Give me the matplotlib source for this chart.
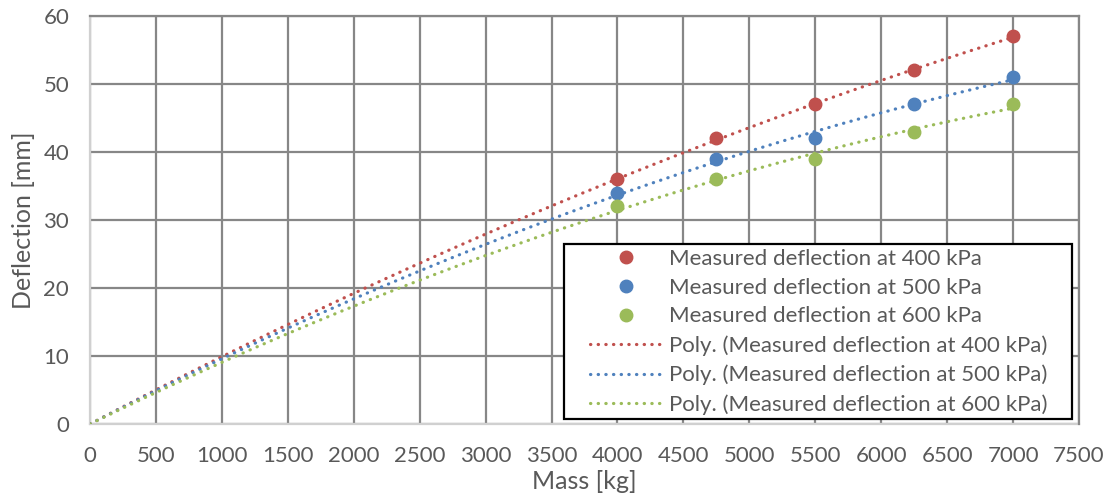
import numpy as np
import matplotlib
matplotlib.use("Agg")
import matplotlib.pyplot as plt
from matplotlib.patches import Rectangle

plt.rcParams['font.family'] = ['Lato', 'DejaVu Sans']

# data
mass = [4000, 4750, 5500, 6250, 7000]
defl_400 = [36, 42, 47, 52, 57]
defl_500 = [34, 39, 42, 47, 51]
defl_600 = [32, 36, 39, 43, 47]

series = [
    ("400 kPa", defl_400, "#C0504D"),
    ("500 kPa", defl_500, "#4F81BD"),
    ("600 kPa", defl_600, "#9BBB59"),
]

txt = "#595959"
grid = "#878787"

fig = plt.figure(figsize=(11.14, 4.95), dpi=100)
ax = fig.add_axes([0.0808, 0.1434, 0.8878, 0.8243])

# polynomial trendlines (order 2, intercept forced to 0)
xs = np.linspace(0, 7000, 200)
trend_handles = []
for name, y, c in series:
    x = np.array(mass, dtype=float)
    A = np.column_stack([x, x ** 2])
    coef, *_ = np.linalg.lstsq(A, np.array(y, dtype=float), rcond=None)
    yy = coef[0] * xs + coef[1] * xs ** 2
    ln, = ax.plot(xs, yy, color=c, lw=2.3, linestyle=(0, (0.1, 2.3)),
                  dash_capstyle='round', zorder=3,
                  label="Poly. (Measured deflection at %s)" % name)
    trend_handles.append(ln)

pt_handles = []
for name, y, c in series:
    sc, = ax.plot(mass, y, 'o', color=c, ms=9, zorder=4,
                  label="Measured deflection at %s" % name)
    pt_handles.append(sc)

ax.set_xlim(0, 7500)
ax.set_ylim(0, 60)
ax.set_xticks(range(0, 7501, 500))
ax.set_yticks(range(0, 61, 10))
ax.grid(True, color=grid, lw=1.6, zorder=0)
ax.set_axisbelow(True)

for s in ['top', 'right']:
    ax.spines[s].set_color(grid)
    ax.spines[s].set_linewidth(1.6)
for s in ['left', 'bottom']:
    ax.spines[s].set_color("#D0D0D0")
    ax.spines[s].set_linewidth(1.6)
    ax.spines[s].set_zorder(2)

ax.tick_params(length=0, labelsize=16, colors=txt)
ax.tick_params(axis='x', pad=16)
ax.tick_params(axis='y', pad=15)
ax.set_xlabel("Mass [kg]", fontsize=18, color=txt, labelpad=3)
ax.set_ylabel("Deflection [mm]", fontsize=18, color=txt, labelpad=6)

# legend box (white, black border) drawn separately
box = Rectangle((0.479, 0.012), 0.514, 0.429, transform=ax.transAxes,
                facecolor='white', edgecolor='black', lw=1.6, zorder=4.5)
ax.add_patch(box)

leg = ax.legend(pt_handles + trend_handles,
                [h.get_label() for h in pt_handles + trend_handles],
                loc='center left', bbox_to_anchor=(0.5056, 0.226),
                fontsize=16, frameon=False, handlelength=3.24,
                handletextpad=0.3, labelspacing=0.4, borderpad=0,
                borderaxespad=0)
leg.set_zorder(5)
for t in leg.get_texts():
    t.set_color(txt)

fig.savefig("out.png", dpi=100)
